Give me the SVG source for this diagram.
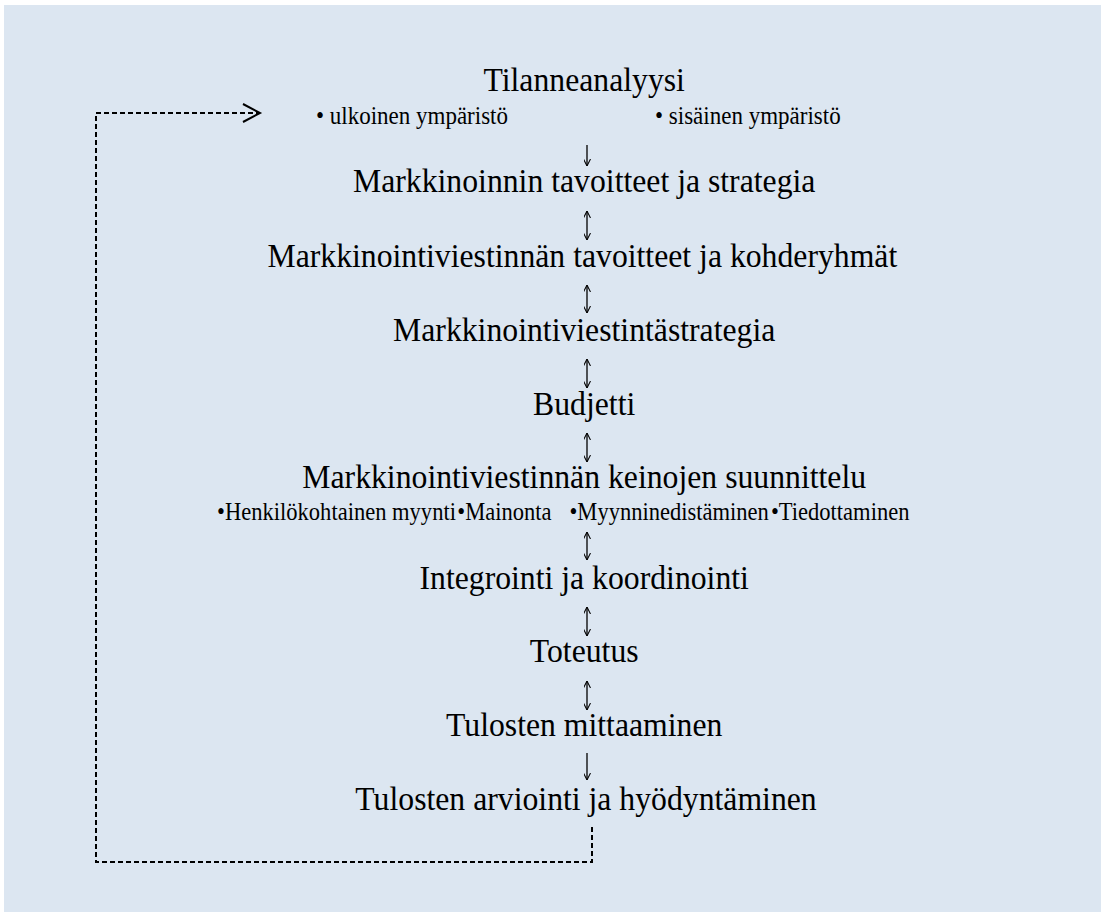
<svg xmlns="http://www.w3.org/2000/svg" width="1101" height="917" viewBox="0 0 1101 917">
<defs>
<style>
.t{font-family:"Liberation Serif","Times New Roman",serif;font-size:34.5px;fill:#000;text-anchor:middle}
.s{font-family:"Liberation Serif","Times New Roman",serif;font-size:25px;fill:#000}
.s2{font-family:"Liberation Serif","Times New Roman",serif;font-size:24.5px;fill:#000}
.a{stroke:#000;stroke-width:1.3;fill:none}
.d{stroke:#000;stroke-width:2;fill:none;stroke-dasharray:5 3}
</style>
<marker id="h" viewBox="0 0 10 10" refX="10" refY="5" markerWidth="7" markerHeight="7" orient="auto-start-reverse" markerUnits="userSpaceOnUse">
<path d="M0,0 L10,5 L0,10" fill="none" stroke="#000" stroke-width="1.5"/>
</marker>
</defs>
<rect x="0" y="0" width="1101" height="917" fill="#ffffff"/>
<rect x="4" y="5" width="1097" height="907" fill="#dce6f1"/>
<g transform="scale(0.92,1)">
<g id="n1"><text class="t" x="635" y="91">Tilanneanalyysi</text>
<text class="s" x="343.5" y="124">• ulkoinen ympäristö</text>
<text class="s" x="712" y="124">• sisäinen ympäristö</text></g>
<g id="n2"><text class="t" x="635" y="192">Markkinoinnin tavoitteet ja strategia</text></g>
<g id="n3"><text class="t" x="633" y="267">Markkinointiviestinnän tavoitteet ja kohderyhmät</text></g>
<g id="n4"><text class="t" x="635" y="341">Markkinointiviestintästrategia</text></g>
<g id="n5"><text class="t" x="635" y="415">Budjetti</text></g>
<g id="n6"><text class="t" x="635" y="488">Markkinointiviestinnän keinojen suunnittelu</text>
<text class="s2" x="236" y="520">•Henkilökohtainen myynti</text>
<text class="s2" x="497" y="520">•Mainonta</text>
<text class="s2" x="619" y="520">•Myynninedistäminen</text>
<text class="s2" x="838" y="520">•Tiedottaminen</text></g>
<g id="n7"><text class="t" x="635" y="589">Integrointi ja koordinointi</text></g>
<g id="n8"><text class="t" x="635" y="662">Toteutus</text></g>
<g id="n9"><text class="t" x="635" y="736">Tulosten mittaaminen</text></g>
<g id="n10"><text class="t" x="637" y="810">Tulosten arviointi ja hyödyntäminen</text></g>
</g>
<g id="connectors">
<path class="a" d="M587,145 V166" marker-end="url(#h)"/>
<path class="a" d="M587,211 V240" marker-start="url(#h)" marker-end="url(#h)"/>
<path class="a" d="M587,285 V313" marker-start="url(#h)" marker-end="url(#h)"/>
<path class="a" d="M587,359 V388" marker-start="url(#h)" marker-end="url(#h)"/>
<path class="a" d="M587,433 V462" marker-start="url(#h)" marker-end="url(#h)"/>
<path class="a" d="M587,532 V560" marker-start="url(#h)" marker-end="url(#h)"/>
<path class="a" d="M587,607 V636" marker-start="url(#h)" marker-end="url(#h)"/>
<path class="a" d="M587,681 V710" marker-start="url(#h)" marker-end="url(#h)"/>
<path class="a" d="M587,753 V780" marker-end="url(#h)"/>
<path class="d" d="M592,827 V862 H96 V113 H260"/>
<path d="M243,104 L260,113 L243,122" fill="none" stroke="#000" stroke-width="2"/>
</g>
</svg>
